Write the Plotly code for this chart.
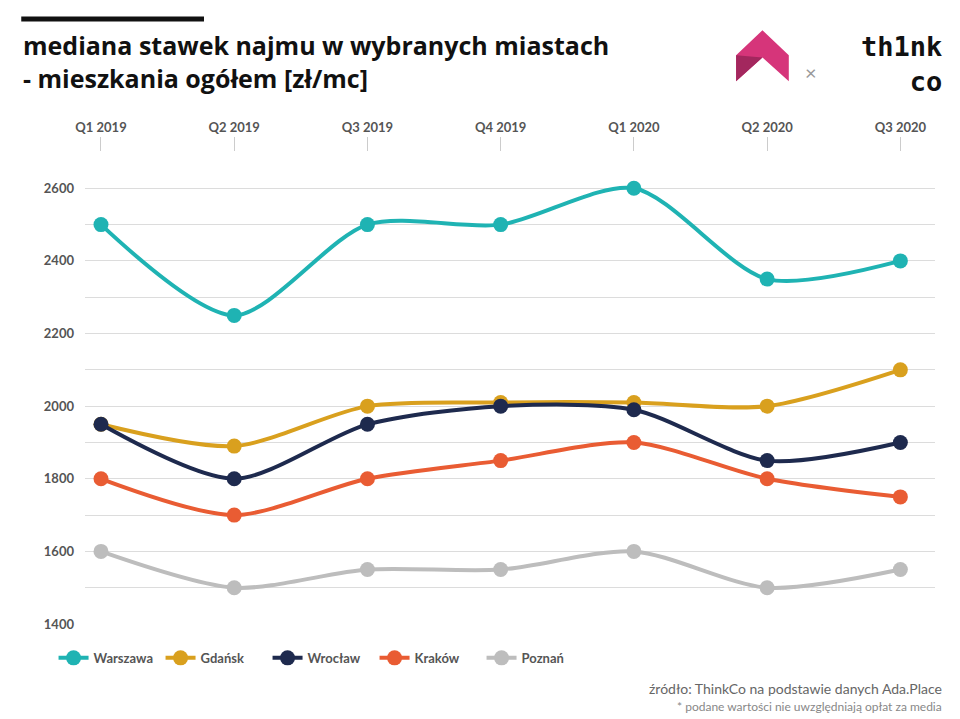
import plotly.graph_objects as go

quarters = ["Q1 2019", "Q2 2019", "Q3 2019", "Q4 2019", "Q1 2020", "Q2 2020", "Q3 2020"]
warszawa = [2500, 2250, 2500, 2500, 2600, 2350, 2400]
gdansk = [1950, 1890, 2000, 2010, 2010, 2000, 2100]
wroclaw = [1950, 1800, 1950, 2000, 1990, 1850, 1900]
krakow = [1800, 1700, 1800, 1850, 1900, 1800, 1750]
poznan = [1600, 1500, 1550, 1550, 1600, 1500, 1550]

series = [("Warszawa", warszawa, "#1fb3b3"), ("Gdańsk", gdansk, "#d9a01e"),
          ("Wrocław", wroclaw, "#1e2a4e"), ("Kraków", krakow, "#e95c33"),
          ("Poznań", poznan, "#bdbdbd")]

fig = go.Figure()
for name, vals, col in series:
    fig.add_trace(go.Scatter(x=quarters, y=vals, name=name, mode="lines+markers",
                             line=dict(color=col, width=4, shape="spline", smoothing=0.8),
                             marker=dict(color=col, size=15)))

yt = list(range(1400, 2701, 100))
fig.update_layout(
    width=960, height=719, plot_bgcolor="white", paper_bgcolor="white",
    margin=dict(l=77, r=33, t=144, b=103),
    font=dict(family="Lato", color="#555"),
    xaxis=dict(side="top", range=[-0.12, 6.26], showgrid=False, ticks="outside",
               ticklen=14, tickcolor="#ccc", tickfont=dict(size=13, color="#555", weight="bold")),
    yaxis=dict(range=[1400, 2700], tickvals=yt,
               ticktext=[str(v) if v % 200 == 0 and v < 2700 else "" for v in yt],
               gridcolor="#dcdcdc", zeroline=False, tickfont=dict(size=13, color="#555", weight="bold"),
               ticklabelstandoff=10),
    legend=dict(orientation="h", x=-0.037, xref="paper", y=-0.04, yanchor="top",
                font=dict(size=13, color="#555", weight="bold"), itemwidth=30,
                entrywidthmode="pixels", entrywidth=62),
    shapes=[dict(type="line", xref="paper", yref="paper", x0=-0.075, x1=0.14, y0=1.282, y1=1.282,
                 line=dict(color="#111", width=5)),
            dict(type="path", xref="paper", yref="paper",
                 path="M 0.766 1.205 L 0.797 1.258 L 0.828 1.205 L 0.828 1.15 L 0.797 1.2 L 0.766 1.15 Z",
                 fillcolor="#d6357a", line=dict(width=0)),
            dict(type="path", xref="paper", yref="paper",
                 path="M 0.766 1.205 L 0.797 1.2 L 0.766 1.15 Z",
                 fillcolor="#a3275e", line=dict(width=0))],
    annotations=[
        dict(text="<b>mediana stawek najmu w wybranych miastach<br>- mieszkania ogółem [zł/mc]</b>",
             xref="paper", yref="paper", x=-0.075, y=1.267, xanchor="left", yanchor="top",
             align="left", showarrow=False, font=dict(size=25, color="#111", family="Open Sans")),
        dict(text="×", xref="paper", yref="paper", x=0.863, y=1.2, showarrow=False,
             font=dict(size=20, color="#999")),
        dict(text="<b>th1nk<br>   co</b>", xref="paper", yref="paper", x=1.01, y=1.26,
             xanchor="right", yanchor="top", align="left", showarrow=False,
             font=dict(size=27, color="#111", family="DejaVu Sans Mono")),
        dict(text="źródło: ThinkCo na podstawie danych Ada.Place", xref="paper", yref="paper",
             x=1.01, y=-0.115, xanchor="right", yanchor="top", showarrow=False,
             font=dict(size=14, color="#666")),
        dict(text="* podane wartości nie uwzględniają opłat za media", xref="paper", yref="paper",
             x=1.01, y=-0.155, xanchor="right", yanchor="top", showarrow=False,
             font=dict(size=12, color="#888")),
    ],
)
fig.write_html("out.html")
